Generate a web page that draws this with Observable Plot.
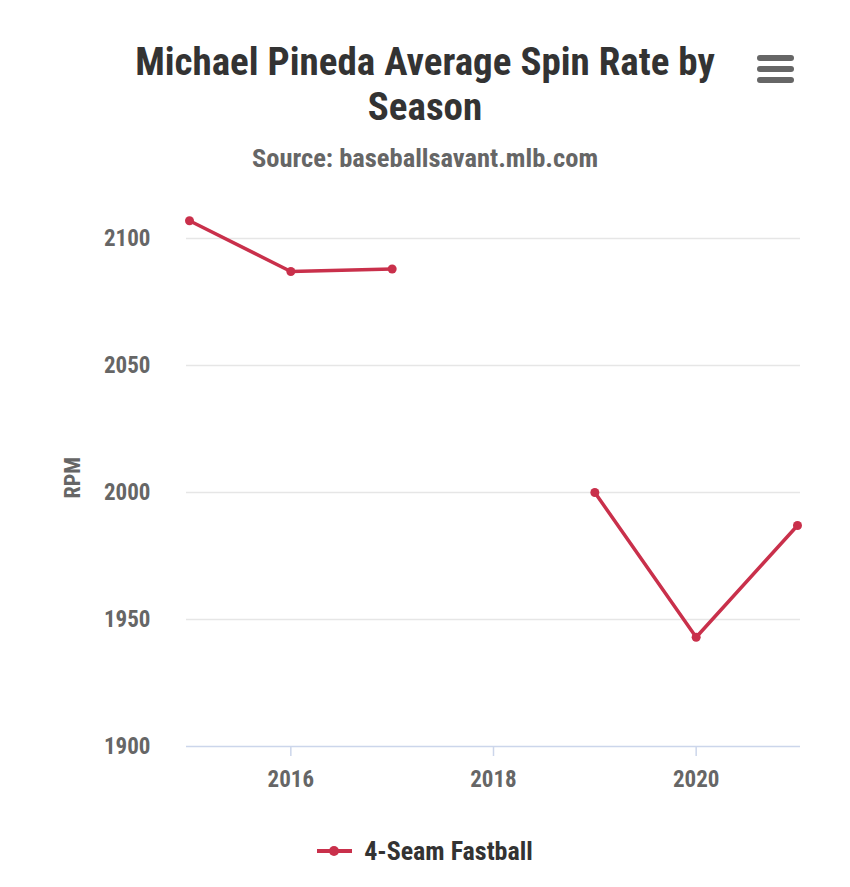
<!DOCTYPE html>
<html>
<head>
<meta charset="utf-8">
<script src="https://cdn.jsdelivr.net/npm/d3@7"></script>
<script src="https://cdn.jsdelivr.net/npm/@observablehq/plot@0.6"></script>
<style>
  html, body { margin: 0; padding: 0; background: #ffffff; }
  body { width: 850px; height: 887px; position: relative; overflow: hidden;
         font-family: "Roboto Condensed", Roboto, "Liberation Sans Narrow", sans-serif; }
  #title { position: absolute; left: 0; top: 40px; width: 850px; text-align: center;
           font-size: 39px; font-weight: 700; color: #333333; line-height: 45px; }
  #subtitle { position: absolute; left: 0; top: 142px; width: 850px; text-align: center;
              font-size: 26.5px; font-weight: 700; color: #666666; line-height: 32px; }
  #menu { position: absolute; left: 757px; top: 55px; width: 37px; height: 28px; }
  #menu div { position: absolute; left: 0; width: 37px; height: 6px; border-radius: 3px; background: #666666; }
  #chart { position: absolute; left: 0; top: 200px; }
  #legend { position: absolute; left: 0; top: 835px; width: 850px; text-align: center;
            font-size: 26px; font-weight: 700; color: #333333; line-height: 28px; }
  #legend .sw { display: inline-block; position: relative; width: 35px; height: 20px; vertical-align: middle; margin-right: 12px; }
  #legend .sw .ln { position: absolute; left: 0; top: 8px; width: 35px; height: 4px; background: #c9304b; }
  #legend .sw .dt { position: absolute; left: 12px; top: 5px; width: 10px; height: 10px; border-radius: 5px; background: #c9304b; }
  #legend span.t { display: inline-block; vertical-align: middle; }
</style>
</head>
<body>
<div id="title">Michael Pineda Average Spin Rate by<br>Season</div>
<div id="subtitle">Source: baseballsavant.mlb.com</div>
<div id="menu"><div style="top:0"></div><div style="top:11px"></div><div style="top:22px"></div></div>
<div id="chart"></div>
<div id="legend"><span class="sw"><span class="ln"></span><span class="dt"></span></span><span class="t">4-Seam Fastball</span></div>
<script>
const seasons = [2015, 2016, 2017, 2018, 2019, 2020, 2021];
const spinRate = [2107, 2087, 2088, null, 2000, 1943, 1987];
const yTicks = [1900, 1950, 2000, 2050, 2100];
const xTicks = [2016, 2018, 2020];
const seriesName = "4-Seam Fastball";

const data = seasons.map((s, i) => ({season: s, rpm: spinRate[i], series: seriesName}));
const color = "#c9304b";
const font = '"Roboto Condensed", Roboto, sans-serif';

const chart = Plot.plot({
  width: 850,
  height: 596,
  marginLeft: 189,
  marginRight: 53,
  marginTop: 38,
  marginBottom: 50,
  style: {fontFamily: font, fontSize: "23px", fontWeight: 700, color: "#666666", background: "transparent", overflow: "visible"},
  x: {domain: [2015, 2021], label: null},
  y: {domain: [1900, 2100], label: null},
  marks: [
    Plot.ruleY(yTicks.filter(d => d !== 1900), {stroke: "#e6e6e6", strokeWidth: 1.5, insetLeft: -3, insetRight: -3}),
    Plot.ruleY([1900], {stroke: "#ccd6eb", strokeWidth: 1.5, insetLeft: -3, insetRight: -3}),
    Plot.axisX(xTicks, {tickSize: 10, stroke: "#ccd6eb", strokeWidth: 1.5, tickPadding: 14, tickFormat: d => String(d), fill: "#666666", fontSize: 23, fontWeight: 700}),
    Plot.axisY(yTicks, {tickSize: 0, tickPadding: 39, tickFormat: d => String(d), fill: "#666666", fontSize: 23, fontWeight: 700}),
    Plot.text(["RPM"], {frameAnchor: "left", dx: -117, dy: 6, rotate: -90, fill: "#666666", fontSize: 22, fontWeight: 700}),
    Plot.line(data, {x: "season", y: "rpm", stroke: color, strokeWidth: 3.5, clip: false}),
    Plot.dot(data, {x: "season", y: "rpm", fill: color, r: 4.5, clip: false})
  ]
});
document.getElementById("chart").appendChild(chart);
</script>
</body>
</html>
